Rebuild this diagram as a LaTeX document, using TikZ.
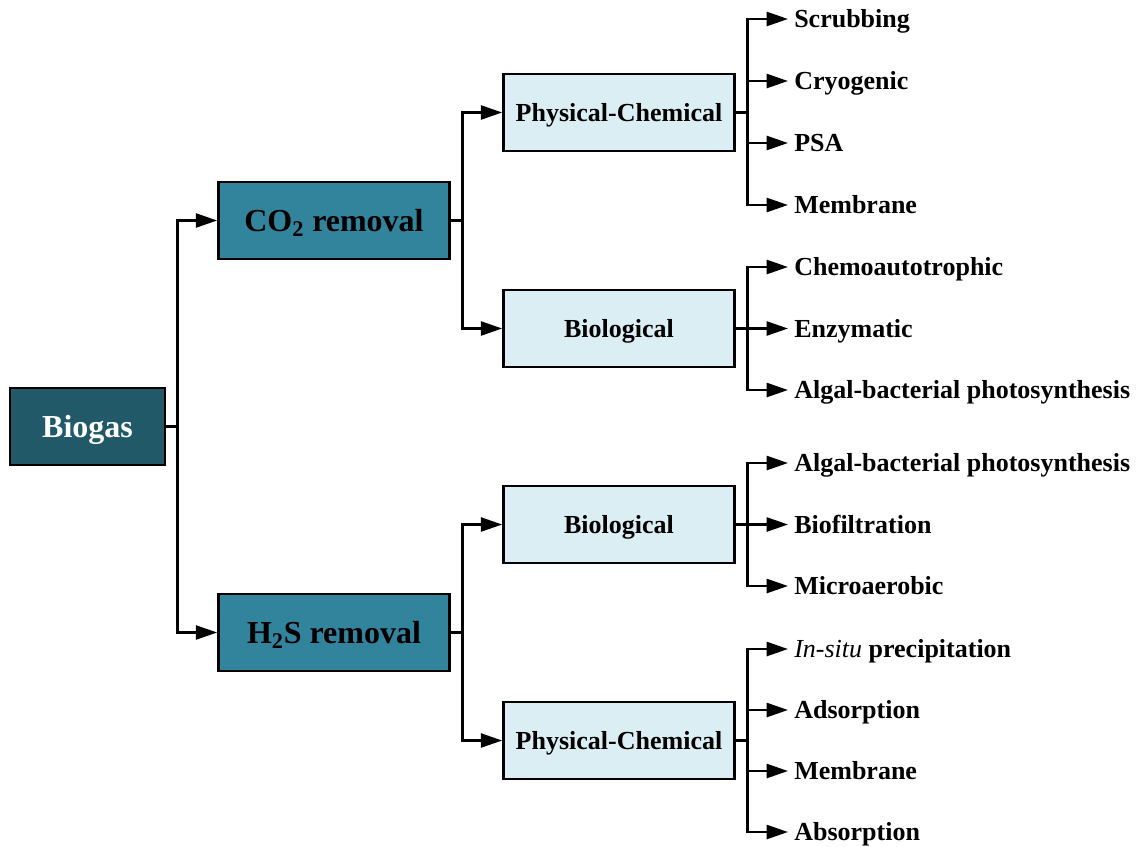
\documentclass[tikz,border=0pt]{standalone}
\usepackage{fontspec}
\setmainfont{Liberation Serif}
\usetikzlibrary{arrows.meta}
\definecolor{darkteal}{HTML}{215968}
\definecolor{midteal}{HTML}{31849B}
\definecolor{lightblue}{HTML}{DAEEF3}
\tikzset{
  box/.style={draw=black, line width=2pt, inner sep=0pt, minimum height=77*0.75pt, align=center},
  rootbox/.style={box, fill=darkteal, text=white, minimum width=155*0.75pt, text height=15.9pt, text depth=0pt, font=\fontsize{24pt}{28pt}\selectfont\bfseries},
  midbox/.style={box, fill=midteal, text=black, minimum width=231*0.75pt, text height=15.9pt, text depth=0pt, font=\fontsize{24pt}{28pt}\selectfont\bfseries},
  subbox/.style={box, fill=lightblue, text=black, minimum width=231*0.75pt, text height=12.9pt, text depth=0pt, font=\fontsize{19.5pt}{23pt}\selectfont\bfseries},
  leaf/.style={anchor=west, inner xsep=4.5pt, inner ysep=0pt, text height=12.9pt, text depth=0pt, font=\fontsize{19.5pt}{23pt}\selectfont\bfseries},
  arr/.style={line width=1.9pt, -{Triangle[length=16pt, width=10.5pt]}},
}
\begin{document}
\begin{tikzpicture}[x=0.75pt, y=-0.75pt]
\useasboundingbox (0,0) rectangle (1137,846);
% main boxes
\node[rootbox] (biogas) at (87.5,426.5) {Biogas};
\node[midbox] (co2) at (334,220.5) {CO\textsubscript{2} removal};
\node[midbox] (h2s) at (334,632.5) {H\textsubscript{2}S removal};
\node[subbox] (pc1) at (619,112.5) {Physical-Chemical};
\node[subbox] (bio1) at (619,328.5) {Biological};
\node[subbox] (bio2) at (619,524.5) {Biological};
\node[subbox] (pc2) at (619,740.5) {Physical-Chemical};
% leaves
\node[leaf] (s1) at (788,19) {Scrubbing};
\node[leaf] (s2) at (788,81) {Cryogenic};
\node[leaf] (s3) at (788,143) {PSA};
\node[leaf] (s4) at (788,205) {Membrane};
\node[leaf] (b1) at (788,267) {Chemoautotrophic};
\node[leaf] (b2) at (788,328.5) {Enzymatic};
\node[leaf] (b3) at (788,390) {Algal-bacterial photosynthesis};
\node[leaf] (c1) at (788,463) {Algal-bacterial photosynthesis};
\node[leaf] (c2) at (788,524.5) {Biofiltration};
\node[leaf] (c3) at (788,586) {Microaerobic};
\node[leaf] (p1) at (788,649) {{\normalfont\itshape In-situ} precipitation};
\node[leaf] (p2) at (788,710) {Adsorption};
\node[leaf] (p3) at (788,771) {Membrane};
\node[leaf] (p4) at (788,832) {Absorption};
% connectors
\draw[arr] (biogas.east) -- ++(11,0) |- (co2.west);
\draw[arr] (biogas.east) -- ++(11,0) |- (h2s.west);
\draw[arr] (co2.east) -- ++(11.5,0) |- (pc1.west);
\draw[arr] (co2.east) -- ++(11.5,0) |- (bio1.west);
\draw[arr] (h2s.east) -- ++(11.5,0) |- (bio2.west);
\draw[arr] (h2s.east) -- ++(11.5,0) |- (pc2.west);
\foreach \t in {s1,s2,s3,s4} \draw[arr] (pc1.east) -- ++(11.5,0) |- (\t.west);
\foreach \t in {b1,b2,b3} \draw[arr] (bio1.east) -- ++(11.5,0) |- (\t.west);
\foreach \t in {c1,c2,c3} \draw[arr] (bio2.east) -- ++(11.5,0) |- (\t.west);
\foreach \t in {p1,p2,p3,p4} \draw[arr] (pc2.east) -- ++(11.5,0) |- (\t.west);
\end{tikzpicture}
\end{document}
